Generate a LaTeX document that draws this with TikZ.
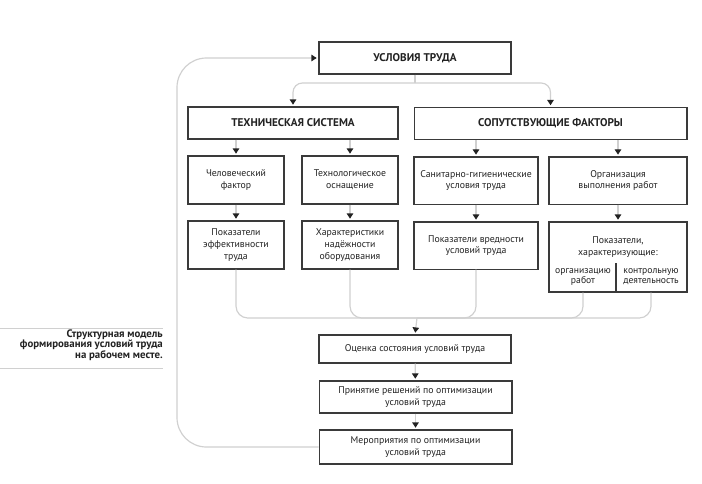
\documentclass[tikz,border=0pt]{standalone}
\usepackage{fontspec}
\setmainfont{PT Sans}
\usetikzlibrary{arrows.meta}
\definecolor{linegray}{HTML}{D0D0D0}
\definecolor{boxline}{HTML}{3A3A3A}
\definecolor{txt}{HTML}{222222}
\tikzset{
  box/.style={draw=boxline,line width=0.9pt,fill=white,text=txt,align=center,
    inner sep=1pt,font=\fontsize{8.3}{10}\selectfont},
  headbox/.style={box,font=\fontsize{9.5}{11}\selectfont\bfseries},
  intext/.style={text=txt,align=center,inner sep=0pt,font=\fontsize{8.2}{8.5}\selectfont},
  gline/.style={draw=linegray,line width=1pt},
  arr/.style={gline,-{Triangle[width=5.5pt,length=4.5pt,color=txt]},shorten >=1.5pt},
}
\begin{document}
\begin{tikzpicture}[x=0.85pt,y=-0.85pt]
  \useasboundingbox (0,0) rectangle (702,483);
  % top level
  \node[headbox,minimum width=163.2pt,minimum height=27.2pt] (usl) at (415,58) {УСЛОВИЯ ТРУДА};
  \node[headbox,minimum width=178.5pt,minimum height=27.2pt] (tech) at (293,123) {ТЕХНИЧЕСКАЯ СИСТЕМА};
  \node[headbox,minimum width=232pt,minimum height=27.2pt] (sop) at (550.5,123.5) {СОПУТСТВУЮЩИЕ ФАКТОРЫ};
  % factors
  \node[box,minimum width=81.6pt,minimum height=40.8pt] (chel) at (236,180) {Человеческий\\фактор};
  \node[box,minimum width=81.6pt,minimum height=40.8pt] (tehn) at (350,180) {Технологическое\\оснащение};
  \node[box,minimum width=105.4pt,minimum height=40pt] (san) at (476,180.5) {Санитарно-гигиенические\\условия труда};
  \node[box,minimum width=117.3pt,minimum height=40pt] (org) at (618,180.5) {Организация\\выполнения работ};
  % indicators
  \node[box,minimum width=81.6pt,minimum height=40.8pt] (pef) at (236,245) {Показатели\\эффективности\\труда};
  \node[box,minimum width=81.6pt,minimum height=40.8pt] (har) at (350,245) {Характеристики\\надёжности\\оборудования};
  \node[box,minimum width=105.4pt,minimum height=40pt] (pvr) at (476,245.5) {Показатели вредности\\условий труда};
  \node[box,minimum width=117.3pt,minimum height=59.5pt] (ph) at (618,257) {};
  \node[intext,font=\fontsize{8.3}{10}\selectfont] (phtop) at (618,247) {Показатели,\\характеризующие:};
  \node[intext] (orgr) at (583,277) {организацию\\работ};
  \node[intext] (kont) at (651,277) {контрольную\\деятельность};
  \draw[boxline,line width=0.9pt] (616,263) -- (616,292);
  % lower chain
  \node[box,minimum width=163.2pt,minimum height=23.8pt] (ots) at (415,349) {Оценка состояния условий труда};
  \node[box,minimum width=164pt,minimum height=27.2pt] (prin) at (415.5,397) {Принятие решений по оптимизации\\условий труда};
  \node[box,minimum width=164pt,minimum height=28.9pt] (mer) at (415.5,447) {Мероприятия по оптимизации\\условий труда};
  % caption
  \node[text=txt,align=right,anchor=east,inner sep=0pt,font=\fontsize{9.2}{8.8}\selectfont\bfseries] (cap) at (163,345)
    {Структурная модель\\формирования условий труда\\на рабочем месте.};
  \draw[draw=linegray,line width=0.8pt] (0,328) -- (cap.east |- 0,328);
  \draw[draw=linegray,line width=0.8pt] (0,368) -- (cap.east |- 0,368);
  % connectors
  \coordinate (fork) at (415,83);
  \coordinate (join) at (417,318);
  \coordinate (loop) at (177,58);
  \draw[gline] (usl.south) -- (fork);
  \draw[arr,rounded corners=8] (fork) -| (tech.north);
  \draw[arr,rounded corners=8] (fork) -| (sop.north);
  \draw[arr] (tech.south -| chel) -- (chel.north);
  \draw[arr] (tech.south -| tehn) -- (tehn.north);
  \draw[arr] (sop.south -| san) -- (san.north);
  \draw[arr] (sop.south -| org) -- (org.north);
  \draw[arr] (chel) -- (pef);
  \draw[arr] (tehn) -- (har);
  \draw[arr] (san) -- (pvr);
  \draw[arr] (org.south) -- (ph.north);
  \draw[gline,rounded corners=10] (pef.south) |- (join);
  \draw[gline,rounded corners=10] (har.south) |- (join);
  \draw[gline,rounded corners=10] (pvr.south) |- (join);
  \draw[gline,rounded corners=10] (orgr |- ph.south) |- (join);
  \draw[gline,rounded corners=10] (kont |- ph.south) |- (join);
  \draw[arr] (join) -- (ots.north);
  \draw[arr] (ots) -- (prin);
  \draw[arr] (prin) -- (mer);
  \draw[arr,rounded corners=25] (mer.west) -| (loop) -- (usl.west);
\end{tikzpicture}
\end{document}
